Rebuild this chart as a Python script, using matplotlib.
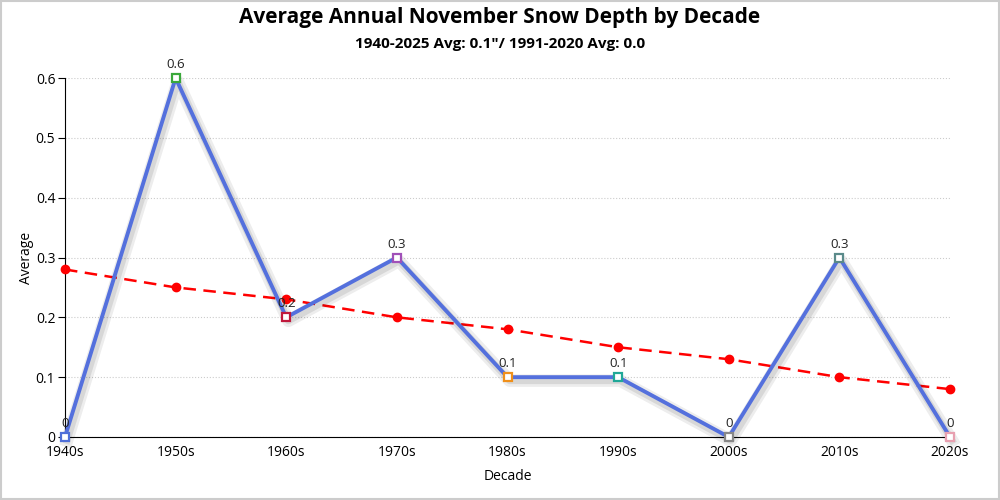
import matplotlib
matplotlib.use('Agg')
import matplotlib.pyplot as plt
import matplotlib.patheffects as pe
from matplotlib.ticker import FuncFormatter

plt.rcParams['font.family'] = ['Open Sans', 'DejaVu Sans']

decades = ['1940s', '1950s', '1960s', '1970s', '1980s', '1990s', '2000s', '2010s', '2020s']
avg = [0.0, 0.6, 0.2, 0.3, 0.1, 0.1, 0.0, 0.3, 0.0]
trend = [0.28, 0.25, 0.23, 0.20, 0.18, 0.15, 0.13, 0.10, 0.08]
labels = ['0', '0.6', '0.2', '0.3', '0.1', '0.1', '0', '0.3', '0']
mcolors = ['#4f6fd8', '#3aa83a', '#c0183c', '#a050b8', '#f0901a', '#20a898',
           '#888888', '#5a8a8a', '#e8a0b0']

fig = plt.figure(figsize=(10, 5), dpi=100)
ax = fig.add_axes([0.065, 0.126, 0.885, 0.718])

x = list(range(len(decades)))

ax.plot(x, trend, color='red', lw=1.8, ls=(0, (5, 3)), marker='o', ms=6, zorder=3, clip_on=False)
shadow = [pe.SimpleLineShadow(offset=(1.5, -2.5), alpha=0.07, shadow_color='black', linewidth=9),
          pe.SimpleLineShadow(offset=(1.5, -2.5), alpha=0.09, shadow_color='black', linewidth=5),
          pe.Normal()]
ax.plot(x, avg, color='#5470dd', lw=2.8, zorder=4, path_effects=shadow, clip_on=False)
for xi, yi, c in zip(x, avg, mcolors):
    ax.plot(xi, yi, marker='s', ms=5.5, mfc='white', mec=c, mew=1.6, zorder=5, clip_on=False)
for xi, yi, t in zip(x, avg, labels):
    ax.annotate(t, (xi, yi), xytext=(0, 5), textcoords='offset points', ha='center', va='bottom',
                fontsize=9.5, color='#222222', zorder=6)

ax.set_xlim(0, len(decades) - 1)
ax.set_ylim(0, 0.6)
ax.set_xticks(x)
ax.set_xticklabels(decades, fontsize=10)
ax.set_yticks([0, 0.1, 0.2, 0.3, 0.4, 0.5, 0.6])
ax.yaxis.set_major_formatter(FuncFormatter(lambda v, p: '0' if v == 0 else f'{v:.1f}'))
ax.tick_params(axis='y', labelsize=10, length=5, pad=2)
ax.tick_params(axis='x', length=0, pad=6)
ax.grid(axis='y', color='#cccccc', ls=':', lw=0.8)
ax.set_axisbelow(True)
for s in ['top', 'right']:
    ax.spines[s].set_visible(False)
ax.spines['left'].set_color('black')
ax.spines['bottom'].set_color('black')

ax.set_xlabel('Decade', fontsize=10, labelpad=6)
ax.set_ylabel('Average', fontsize=10, labelpad=1)

fig.text(0.5, 0.965, 'Average Annual November Snow Depth by Decade', ha='center', va='center',
         fontsize=15, fontweight='bold')
fig.text(0.5, 0.912, '1940-2025 Avg: 0.1"/ 1991-2020 Avg: 0.0', ha='center', va='center',
         fontsize=11, fontweight='bold')

fig.patches.append(plt.Rectangle((0.001, 0.002), 0.998, 0.996, transform=fig.transFigure,
                                 fill=False, edgecolor='#cccccc', lw=1.5))

fig.savefig('out.png', dpi=100)
